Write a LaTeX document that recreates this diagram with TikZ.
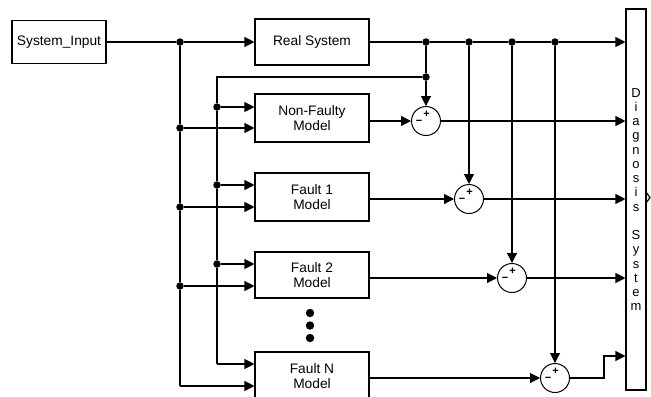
\documentclass[tikz,border=0pt]{standalone}
\usepackage{fontspec}
\setmainfont{Liberation Sans}
\usetikzlibrary{arrows.meta}

\begin{document}
\begin{tikzpicture}[x=1bp, y=-1bp,
    blk/.style={draw, line width=1.1bp, minimum width=114bp, inner sep=0pt,
      align=center, font=\fontsize{13.8}{15}\selectfont},
    sumc/.style={draw, circle, line width=1bp, minimum size=29bp, inner sep=0pt},
    wire/.style={line width=1.1bp},
    sig/.style={wire, -{Triangle[length=10bp,width=10bp]}},
    jdot/.style={circle, fill, minimum size=7.5bp, inner sep=0pt},
    sgn/.style={font=\fontsize{11}{11}\selectfont\bfseries, inner sep=0pt}]
    \useasboundingbox (0,0) rectangle (651,396);
    \clip (0,0) rectangle (651,396);

    % blocks
    \node[blk, minimum width=94bp, minimum height=43bp] (in) at (59,42) {System\_Input};
    \node[blk, minimum height=46bp] (real) at (312,42) {Real System};
    \node[blk, minimum height=48bp] (nf) at (312,118) {Non-Faulty\\Model};
    \node[blk, minimum height=48bp] (f1) at (312,197) {Fault 1\\Model};
    \node[blk, minimum height=46bp] (f2) at (312,275) {Fault 2\\Model};
    \node[blk, minimum height=48bp] (fn) at (312,376) {Fault N\\Model};
    \node[blk, minimum width=20bp, minimum height=381bp,
      font=\fontsize{13}{14.3}\selectfont] (diag) at (636,199.5)
      {D\\i\\a\\g\\n\\o\\s\\i\\s\\\mbox{}\\S\\y\\s\\t\\e\\m};
    \fill (310,313) circle[radius=4.2bp];
    \fill (310,325.5) circle[radius=4.2bp];
    \fill (310,338) circle[radius=4.2bp];

    % sums
    \node[sumc] (s0) at (426,121) {};
    \node[sumc] (s1) at (469,199) {};
    \node[sumc] (s2) at (512,278) {};
    \node[sumc] (s3) at (555,378) {};
    \foreach \s in {s0,s1,s2,s3}{
      \node[sgn] at ([shift={(0.5,-7)}]\s) {+};
      \node[sgn] at ([shift={(-7,1.5)}]\s) {−};
    }

    % junctions
    \node[jdot] (a0) at (180,42) {};
    \node[jdot] (a1) at (180,128) {};
    \node[jdot] (a2) at (180,207) {};
    \node[jdot] (a3) at (180,286) {};
    \coordinate (a4) at (180,386);
    \coordinate (b0) at (217,77);
    \node[jdot] (b1) at (217,107) {};
    \node[jdot] (b2) at (217,185) {};
    \node[jdot] (b3) at (217,264) {};
    \coordinate (b4) at (217,364);
    \node[jdot] (r1) at (426,42) {};
    \node[jdot] (r2) at (469,42) {};
    \node[jdot] (r3) at (512,42) {};
    \node[jdot] (r4) at (555,42) {};
    \node[jdot] (c0) at (426,77) {};
    \coordinate (k) at (604,356);

    % input bus
    \draw[wire] (in) -- (a0);
    \draw[sig] (a0) -- (real);
    \draw[wire] (a0) -- (a1) -- (a2) -- (a3) -- (a4);
    \draw[sig] (a1) -- (nf.west |- a1);
    \draw[sig] (a2) -- (f1.west |- a2);
    \draw[sig] (a3) -- (f2.west |- a3);
    \draw[sig] (a4) -- (fn.west |- a4);

    % real system output
    \draw[wire] (real) -- (r1) -- (r2) -- (r3) -- (r4);
    \draw[sig] (r4) -- (diag.west |- r4);
    \draw[wire] (r1) -- (c0);
    \draw[wire] (c0) -- (b0) -- (b1) -- (b2) -- (b3) -- (b4);
    \draw[sig] (b1) -- (nf.west |- b1);
    \draw[sig] (b2) -- (f1.west |- b2);
    \draw[sig] (b3) -- (f2.west |- b3);
    \draw[sig] (b4) -- (fn.west |- b4);

    % residuals
    \draw[sig] (c0) -- (s0);
    \draw[sig] (r2) -- (s1);
    \draw[sig] (r3) -- (s2);
    \draw[sig] (r4) -- (s3);
    \draw[sig] (nf.east |- s0) -- (s0);
    \draw[sig] (f1.east |- s1) -- (s1);
    \draw[sig] (f2.east |- s2) -- (s2);
    \draw[sig] (fn.east |- s3) -- (s3);
    \draw[sig] (s0) -- (diag.west |- s0);
    \draw[sig] (s1) -- (diag.west |- s1);
    \draw[sig] (s2) -- (diag.west |- s2);
    \draw[sig] (s3) -| (k) -- (diag.west |- k);
    \draw[line width=1.2bp] (646,192) -- (650,197.5) -- (646,203);
\end{tikzpicture}
\end{document}
